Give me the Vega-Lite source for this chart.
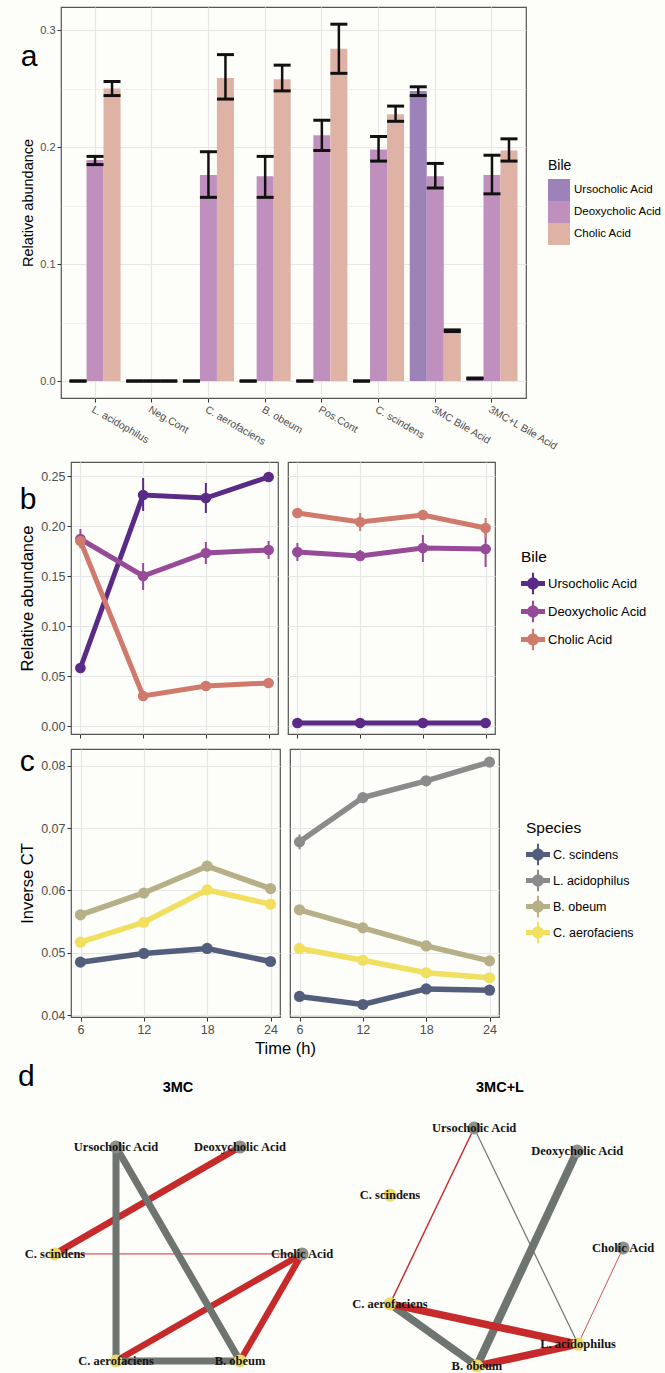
{
  "$schema": "https://vega.github.io/schema/vega-lite/v6.json",
  "background": "#FDFDFA",
  "padding": {"left": 18, "top": 6, "right": 2, "bottom": 2},
  "datasets": {
    "bars": [
      {"group": "L. acidophilus", "bile": "Ursocholic Acid", "mean": 0, "lo": 0, "hi": 0},
      {"group": "L. acidophilus", "bile": "Deoxycholic Acid", "mean": 0.189, "lo": 0.185, "hi": 0.192},
      {"group": "L. acidophilus", "bile": "Cholic Acid", "mean": 0.25, "lo": 0.244, "hi": 0.256},
      {"group": "Neg.Cont", "bile": "Ursocholic Acid", "mean": 0, "lo": 0, "hi": 0},
      {"group": "Neg.Cont", "bile": "Deoxycholic Acid", "mean": 0, "lo": 0, "hi": 0},
      {"group": "Neg.Cont", "bile": "Cholic Acid", "mean": 0, "lo": 0, "hi": 0},
      {"group": "C. aerofaciens", "bile": "Ursocholic Acid", "mean": 0, "lo": 0, "hi": 0},
      {"group": "C. aerofaciens", "bile": "Deoxycholic Acid", "mean": 0.176, "lo": 0.157, "hi": 0.196},
      {"group": "C. aerofaciens", "bile": "Cholic Acid", "mean": 0.259, "lo": 0.241, "hi": 0.279},
      {"group": "B. obeum", "bile": "Ursocholic Acid", "mean": 0, "lo": 0, "hi": 0},
      {"group": "B. obeum", "bile": "Deoxycholic Acid", "mean": 0.175, "lo": 0.157, "hi": 0.192},
      {"group": "B. obeum", "bile": "Cholic Acid", "mean": 0.258, "lo": 0.248, "hi": 0.27},
      {"group": "Pos.Cont", "bile": "Ursocholic Acid", "mean": 0, "lo": 0, "hi": 0},
      {"group": "Pos.Cont", "bile": "Deoxycholic Acid", "mean": 0.21, "lo": 0.197, "hi": 0.223},
      {"group": "Pos.Cont", "bile": "Cholic Acid", "mean": 0.284, "lo": 0.263, "hi": 0.305},
      {"group": "C. scindens", "bile": "Ursocholic Acid", "mean": 0, "lo": 0, "hi": 0},
      {"group": "C. scindens", "bile": "Deoxycholic Acid", "mean": 0.198, "lo": 0.188, "hi": 0.209},
      {"group": "C. scindens", "bile": "Cholic Acid", "mean": 0.228, "lo": 0.222, "hi": 0.235},
      {"group": "3MC Bile Acid", "bile": "Ursocholic Acid", "mean": 0.248, "lo": 0.244, "hi": 0.2515},
      {"group": "3MC Bile Acid", "bile": "Deoxycholic Acid", "mean": 0.175, "lo": 0.165, "hi": 0.186},
      {"group": "3MC Bile Acid", "bile": "Cholic Acid", "mean": 0.043, "lo": 0.0423, "hi": 0.0437},
      {"group": "3MC+L Bile Acid", "bile": "Ursocholic Acid", "mean": 0.0023, "lo": 0.002, "hi": 0.0026},
      {"group": "3MC+L Bile Acid", "bile": "Deoxycholic Acid", "mean": 0.176, "lo": 0.16, "hi": 0.193},
      {"group": "3MC+L Bile Acid", "bile": "Cholic Acid", "mean": 0.197, "lo": 0.188, "hi": 0.207}
    ],
    "bileTime": [
      {"cond": "3MC", "time": 6, "bile": "Ursocholic Acid", "mean": 0.058, "lo": 0.054, "hi": 0.062},
      {"cond": "3MC", "time": 12, "bile": "Ursocholic Acid", "mean": 0.231, "lo": 0.215, "hi": 0.248},
      {"cond": "3MC", "time": 18, "bile": "Ursocholic Acid", "mean": 0.228, "lo": 0.213, "hi": 0.243},
      {"cond": "3MC", "time": 24, "bile": "Ursocholic Acid", "mean": 0.249, "lo": 0.246, "hi": 0.252},
      {"cond": "3MC", "time": 6, "bile": "Deoxycholic Acid", "mean": 0.187, "lo": 0.178, "hi": 0.197},
      {"cond": "3MC", "time": 12, "bile": "Deoxycholic Acid", "mean": 0.15, "lo": 0.136, "hi": 0.163},
      {"cond": "3MC", "time": 18, "bile": "Deoxycholic Acid", "mean": 0.173, "lo": 0.162, "hi": 0.184},
      {"cond": "3MC", "time": 24, "bile": "Deoxycholic Acid", "mean": 0.176, "lo": 0.167, "hi": 0.185},
      {"cond": "3MC", "time": 6, "bile": "Cholic Acid", "mean": 0.185, "lo": 0.18, "hi": 0.19},
      {"cond": "3MC", "time": 12, "bile": "Cholic Acid", "mean": 0.03, "lo": 0.028, "hi": 0.032},
      {"cond": "3MC", "time": 18, "bile": "Cholic Acid", "mean": 0.04, "lo": 0.038, "hi": 0.042},
      {"cond": "3MC", "time": 24, "bile": "Cholic Acid", "mean": 0.043, "lo": 0.041, "hi": 0.045},
      {"cond": "3MC+L", "time": 6, "bile": "Ursocholic Acid", "mean": 0.003, "lo": 0.002, "hi": 0.004},
      {"cond": "3MC+L", "time": 12, "bile": "Ursocholic Acid", "mean": 0.003, "lo": 0.002, "hi": 0.004},
      {"cond": "3MC+L", "time": 18, "bile": "Ursocholic Acid", "mean": 0.003, "lo": 0.002, "hi": 0.004},
      {"cond": "3MC+L", "time": 24, "bile": "Ursocholic Acid", "mean": 0.003, "lo": 0.002, "hi": 0.004},
      {"cond": "3MC+L", "time": 6, "bile": "Deoxycholic Acid", "mean": 0.174, "lo": 0.165, "hi": 0.183},
      {"cond": "3MC+L", "time": 12, "bile": "Deoxycholic Acid", "mean": 0.17, "lo": 0.165, "hi": 0.176},
      {"cond": "3MC+L", "time": 18, "bile": "Deoxycholic Acid", "mean": 0.178, "lo": 0.164, "hi": 0.191},
      {"cond": "3MC+L", "time": 24, "bile": "Deoxycholic Acid", "mean": 0.177, "lo": 0.159, "hi": 0.193},
      {"cond": "3MC+L", "time": 6, "bile": "Cholic Acid", "mean": 0.213, "lo": 0.208, "hi": 0.218},
      {"cond": "3MC+L", "time": 12, "bile": "Cholic Acid", "mean": 0.204, "lo": 0.195, "hi": 0.213},
      {"cond": "3MC+L", "time": 18, "bile": "Cholic Acid", "mean": 0.211, "lo": 0.206, "hi": 0.216},
      {"cond": "3MC+L", "time": 24, "bile": "Cholic Acid", "mean": 0.198, "lo": 0.188, "hi": 0.208}
    ],
    "ct": [
      {"cond": "3MC", "time": 6, "species": "C. scindens", "mean": 0.0485, "lo": 0.0481, "hi": 0.0489},
      {"cond": "3MC", "time": 12, "species": "C. scindens", "mean": 0.0499, "lo": 0.0495, "hi": 0.0503},
      {"cond": "3MC", "time": 18, "species": "C. scindens", "mean": 0.0507, "lo": 0.0503, "hi": 0.0511},
      {"cond": "3MC", "time": 24, "species": "C. scindens", "mean": 0.0486, "lo": 0.0482, "hi": 0.049},
      {"cond": "3MC", "time": 6, "species": "B. obeum", "mean": 0.0561, "lo": 0.0557, "hi": 0.0565},
      {"cond": "3MC", "time": 12, "species": "B. obeum", "mean": 0.0596, "lo": 0.0592, "hi": 0.06},
      {"cond": "3MC", "time": 18, "species": "B. obeum", "mean": 0.0639, "lo": 0.0635, "hi": 0.0643},
      {"cond": "3MC", "time": 24, "species": "B. obeum", "mean": 0.0603, "lo": 0.0599, "hi": 0.0607},
      {"cond": "3MC", "time": 6, "species": "C. aerofaciens", "mean": 0.0517, "lo": 0.0513, "hi": 0.0521},
      {"cond": "3MC", "time": 12, "species": "C. aerofaciens", "mean": 0.0549, "lo": 0.0545, "hi": 0.0553},
      {"cond": "3MC", "time": 18, "species": "C. aerofaciens", "mean": 0.0601, "lo": 0.0596, "hi": 0.0606},
      {"cond": "3MC", "time": 24, "species": "C. aerofaciens", "mean": 0.0578, "lo": 0.0574, "hi": 0.0582},
      {"cond": "3MC+L", "time": 6, "species": "C. scindens", "mean": 0.043, "lo": 0.0426, "hi": 0.0434},
      {"cond": "3MC+L", "time": 12, "species": "C. scindens", "mean": 0.0417, "lo": 0.0413, "hi": 0.0421},
      {"cond": "3MC+L", "time": 18, "species": "C. scindens", "mean": 0.0442, "lo": 0.0438, "hi": 0.0446},
      {"cond": "3MC+L", "time": 24, "species": "C. scindens", "mean": 0.044, "lo": 0.0436, "hi": 0.0444},
      {"cond": "3MC+L", "time": 6, "species": "L. acidophilus", "mean": 0.0678, "lo": 0.0666, "hi": 0.069},
      {"cond": "3MC+L", "time": 12, "species": "L. acidophilus", "mean": 0.0749, "lo": 0.0744, "hi": 0.0754},
      {"cond": "3MC+L", "time": 18, "species": "L. acidophilus", "mean": 0.0776, "lo": 0.0772, "hi": 0.078},
      {"cond": "3MC+L", "time": 24, "species": "L. acidophilus", "mean": 0.0806, "lo": 0.0802, "hi": 0.081},
      {"cond": "3MC+L", "time": 6, "species": "B. obeum", "mean": 0.0569, "lo": 0.0565, "hi": 0.0573},
      {"cond": "3MC+L", "time": 12, "species": "B. obeum", "mean": 0.054, "lo": 0.0536, "hi": 0.0544},
      {"cond": "3MC+L", "time": 18, "species": "B. obeum", "mean": 0.0511, "lo": 0.0507, "hi": 0.0515},
      {"cond": "3MC+L", "time": 24, "species": "B. obeum", "mean": 0.0487, "lo": 0.0483, "hi": 0.0491},
      {"cond": "3MC+L", "time": 6, "species": "C. aerofaciens", "mean": 0.0507, "lo": 0.0503, "hi": 0.0511},
      {"cond": "3MC+L", "time": 12, "species": "C. aerofaciens", "mean": 0.0488, "lo": 0.0484, "hi": 0.0492},
      {"cond": "3MC+L", "time": 18, "species": "C. aerofaciens", "mean": 0.0468, "lo": 0.0464, "hi": 0.0472},
      {"cond": "3MC+L", "time": 24, "species": "C. aerofaciens", "mean": 0.046, "lo": 0.0456, "hi": 0.0464}
    ],
    "nodes3MC": [
      {"name": "Ursocholic Acid", "type": "bile", "x": 0.247, "y": 0},
      {"name": "Deoxycholic Acid", "type": "bile", "x": 0.749, "y": 0},
      {"name": "C. scindens", "type": "species", "x": 0, "y": 0.5},
      {"name": "Cholic Acid", "type": "bile", "x": 1, "y": 0.5},
      {"name": "C. aerofaciens", "type": "species", "x": 0.247, "y": 1},
      {"name": "B. obeum", "type": "species", "x": 0.749, "y": 1}
    ],
    "edges3MC": [
      {"source": "C. scindens", "target": "Deoxycholic Acid", "sign": "negative", "weight": 0.82},
      {"source": "C. scindens", "target": "Cholic Acid", "sign": "negative", "weight": 0.12},
      {"source": "Cholic Acid", "target": "C. aerofaciens", "sign": "negative", "weight": 0.8},
      {"source": "Cholic Acid", "target": "B. obeum", "sign": "negative", "weight": 0.8},
      {"source": "Ursocholic Acid", "target": "C. aerofaciens", "sign": "positive", "weight": 0.88},
      {"source": "Ursocholic Acid", "target": "B. obeum", "sign": "positive", "weight": 0.88},
      {"source": "C. aerofaciens", "target": "B. obeum", "sign": "positive", "weight": 0.88}
    ],
    "nodes3MCL": [
      {"name": "Ursocholic Acid", "type": "bile", "x": 0.361, "y": 0},
      {"name": "Deoxycholic Acid", "type": "bile", "x": 0.803, "y": 0.097},
      {"name": "C. scindens", "type": "species", "x": 0, "y": 0.282},
      {"name": "Cholic Acid", "type": "bile", "x": 1, "y": 0.504},
      {"name": "C. aerofaciens", "type": "species", "x": 0, "y": 0.739},
      {"name": "L. acidophilus", "type": "species", "x": 0.807, "y": 0.908},
      {"name": "B. obeum", "type": "species", "x": 0.373, "y": 1}
    ],
    "edges3MCL": [
      {"source": "Ursocholic Acid", "target": "C. aerofaciens", "sign": "negative", "weight": 0.18},
      {"source": "Ursocholic Acid", "target": "L. acidophilus", "sign": "positive", "weight": 0.15},
      {"source": "Cholic Acid", "target": "L. acidophilus", "sign": "negative", "weight": 0.1},
      {"source": "Deoxycholic Acid", "target": "B. obeum", "sign": "positive", "weight": 1},
      {"source": "C. aerofaciens", "target": "B. obeum", "sign": "positive", "weight": 0.95},
      {"source": "C. aerofaciens", "target": "L. acidophilus", "sign": "negative", "weight": 0.95},
      {"source": "B. obeum", "target": "L. acidophilus", "sign": "negative", "weight": 0.95}
    ]
  },
  "concat": [
    {
      "concat": [
        {
          "hconcat": [
            {"width": 2, "height": 1, "data": {"values": []}, "mark": {"type": "point"}, "encoding": {}, "view": {"stroke": null}},
            {
              "width": 465,
              "height": 391,
              "title": {"text": "a", "anchor": "start", "frame": "bounds", "fontSize": 30, "fontWeight": "normal", "offset": 0, "dy": 89, "baseline": "alphabetic"},
              "data": {"name": "bars"},
              "encoding": {
                "x": {"field": "group", "type": "nominal",
                  "sort": ["L. acidophilus", "Neg.Cont", "C. aerofaciens", "B. obeum", "Pos.Cont", "C. scindens", "3MC Bile Acid", "3MC+L Bile Acid"],
                  "scale": {"paddingInner": 0.1, "paddingOuter": 0.15},
                  "axis": {"title": null, "labelAngle": 30, "labelAlign": "left", "labelBaseline": "top", "labelFontSize": 10.5, "labelOverlap": false, "bandPosition": 0.5, "grid": true, "gridWidth": 1.2}},
                "xOffset": {"field": "bile", "type": "nominal", "sort": ["Ursocholic Acid", "Deoxycholic Acid", "Cholic Acid"], "scale": {"paddingInner": 0, "paddingOuter": 0}}
              },
              "layer": [
                {
                  "mark": {"type": "bar"},
                  "encoding": {
                    "y": {"field": "mean", "type": "quantitative", "title": "Relative abundance",
                      "scale": {"domain": [-0.0145, 0.3197], "nice": false},
                      "axis": {"values": [0, 0.05, 0.1, 0.15, 0.2, 0.25, 0.3], "titleFontSize": 14.5, "titlePadding": 4, "labelFontSize": 11,
                        "labelExpr": "abs(datum.value*10-round(datum.value*10))>0.01 ? '' : format(datum.value,'.1f')",
                        "tickOpacity": {"condition": {"test": "abs(datum.value*10-round(datum.value*10))>0.01", "value": 0}, "value": 1},
                        "gridWidth": {"condition": {"test": "abs(datum.value*10-round(datum.value*10))>0.01", "value": 0.6}, "value": 1.2}}},
                    "fill": {"field": "bile", "type": "nominal",
                      "scale": {"domain": ["Ursocholic Acid", "Deoxycholic Acid", "Cholic Acid"], "range": ["#9C82B8", "#BF90BE", "#DEB2A4"]},
                      "legend": {"orient": "none", "legendX": 487, "legendY": 152, "title": "Bile", "titleFontSize": 14, "titleFontWeight": "normal", "titleColor": "#000", "labelFontSize": 11.5, "labelColor": "#000", "symbolType": "square", "symbolSize": 484, "symbolStrokeWidth": 0, "rowPadding": 0, "titlePadding": 6, "labelOffset": 4}}
                  }
                },
                {
                  "mark": {"type": "rule", "color": "#111111", "strokeWidth": 2.5},
                  "encoding": {"y": {"field": "lo", "type": "quantitative", "title": "Relative abundance"}, "y2": {"field": "hi"}}
                },
                {
                  "transform": [{"fold": ["lo", "hi"], "as": ["which", "cap"]}],
                  "mark": {"type": "tick", "color": "#111111", "thickness": 3, "size": 17, "opacity": 1},
                  "encoding": {"y": {"field": "cap", "type": "quantitative", "title": "Relative abundance"}}
                }
              ]
            }
          ],
          "spacing": 0,
          "resolve": {"scale": {"fill": "independent", "stroke": "independent", "x": "independent", "y": "independent"}, "legend": {"fill": "independent", "stroke": "independent"}}
        },
        {
          "concat": [
            {
              "hconcat": [
                {"width": 1, "height": 1, "data": {"values": []}, "mark": {"type": "point"}, "encoding": {}, "view": {"stroke": null}},
                {
                  "hconcat": [
                    {
                      "width": 207, "height": 272,
                      "title": {"text": "b", "anchor": "start", "frame": "bounds", "fontSize": 30, "fontWeight": "normal", "offset": 0, "dy": 77, "baseline": "alphabetic"},
                      "data": {"name": "bileTime"},
                      "transform": [{"filter": "datum.cond === '3MC'"}],
                      "encoding": {"x": {"field": "time", "type": "quantitative", "scale": {"domain": [5.1, 24.9], "nice": false, "zero": false}, "axis": {"values": [6, 12, 18, 24], "labels": false, "title": null, "gridWidth": 1.2}}},
                      "layer": [
                        {"mark": {"type": "rule", "strokeWidth": 2},
                          "encoding": {
                            "y": {"field": "lo", "type": "quantitative", "title": "Relative abundance", "scale": {"domain": [-0.008, 0.264], "nice": false, "zero": false},
                              "axis": {"values": [0, 0.025, 0.05, 0.075, 0.1, 0.125, 0.15, 0.175, 0.2, 0.225, 0.25], "titleFontSize": 16.5, "titlePadding": 5, "labelFontSize": 12.5,
                                "labelExpr": "abs(datum.value*20-round(datum.value*20))>0.01 ? '' : format(datum.value,'.2f')",
                                "tickOpacity": {"condition": {"test": "abs(datum.value*20-round(datum.value*20))>0.01", "value": 0}, "value": 1},
                                "gridWidth": {"condition": {"test": "abs(datum.value*20-round(datum.value*20))>0.01", "value": 0.6}, "value": 1.2}}},
                            "y2": {"field": "hi"},
                            "stroke": {"field": "bile", "type": "nominal", "scale": {"domain": ["Ursocholic Acid", "Deoxycholic Acid", "Cholic Acid"], "range": ["#5A2A87", "#964A97", "#CF7A6C"]}, "legend": null}}},
                        {"mark": {"type": "line", "strokeWidth": 5},
                          "encoding": {"y": {"field": "mean", "type": "quantitative", "title": "Relative abundance"}, "stroke": {"field": "bile", "type": "nominal", "legend": null}}},
                        {"mark": {"type": "point", "filled": true, "size": 115, "opacity": 1, "strokeWidth": 0},
                          "encoding": {"y": {"field": "mean", "type": "quantitative", "title": "Relative abundance"},
                            "fill": {"field": "bile", "type": "nominal", "scale": {"domain": ["Ursocholic Acid", "Deoxycholic Acid", "Cholic Acid"], "range": ["#5A2A87", "#964A97", "#CF7A6C"]}, "legend": null}}}
                      ]
                    },
                    {
                      "width": 207, "height": 272,
                      "data": {"name": "bileTime"},
                      "transform": [{"filter": "datum.cond === '3MC+L'"}],
                      "encoding": {"x": {"field": "time", "type": "quantitative", "scale": {"domain": [5.1, 24.9], "nice": false, "zero": false}, "axis": {"values": [6, 12, 18, 24], "labels": false, "title": null, "gridWidth": 1.2}}},
                      "layer": [
                        {"mark": {"type": "rule", "strokeWidth": 2},
                          "encoding": {
                            "y": {"field": "lo", "type": "quantitative", "scale": {"domain": [-0.008, 0.264], "nice": false, "zero": false},
                              "axis": {"values": [0, 0.025, 0.05, 0.075, 0.1, 0.125, 0.15, 0.175, 0.2, 0.225, 0.25], "title": null, "labels": false, "ticks": false,
                                "gridWidth": {"condition": {"test": "abs(datum.value*20-round(datum.value*20))>0.01", "value": 0.6}, "value": 1.2}}},
                            "y2": {"field": "hi"},
                            "stroke": {"field": "bile", "type": "nominal", "scale": {"domain": ["Ursocholic Acid", "Deoxycholic Acid", "Cholic Acid"], "range": ["#5A2A87", "#964A97", "#CF7A6C"]},
                              "legend": {"orient": "none", "legendX": 233, "legendY": 88, "title": "Bile", "titleFontSize": 15.5, "titleFontWeight": "normal", "titleColor": "#000", "labelFontSize": 13, "labelColor": "#000",
                                "symbolType": "M-1,-0.21L1,-0.21L1,0.21L-1,0.21ZM-0.085,-0.9L0.085,-0.9L0.085,0.9L-0.085,0.9ZM-0.5,0A0.5,0.5 0 1,1 0.5,0A0.5,0.5 0 1,1 -0.5,0Z",
                                "symbolSize": 576, "symbolStrokeWidth": 0, "symbolOpacity": 1, "rowPadding": 5, "titlePadding": 6, "labelOffset": 3}}}},
                        {"mark": {"type": "line", "strokeWidth": 5},
                          "encoding": {"y": {"field": "mean", "type": "quantitative"}, "stroke": {"field": "bile", "type": "nominal",
                              "legend": {"orient": "none", "legendX": 233, "legendY": 88, "title": "Bile", "titleFontSize": 15.5, "titleFontWeight": "normal", "titleColor": "#000", "labelFontSize": 13, "labelColor": "#000",
                                "symbolType": "M-1,-0.21L1,-0.21L1,0.21L-1,0.21ZM-0.085,-0.9L0.085,-0.9L0.085,0.9L-0.085,0.9ZM-0.5,0A0.5,0.5 0 1,1 0.5,0A0.5,0.5 0 1,1 -0.5,0Z",
                                "symbolSize": 576, "symbolStrokeWidth": 0, "symbolOpacity": 1, "rowPadding": 5, "titlePadding": 6, "labelOffset": 3}}}},
                        {"mark": {"type": "point", "filled": true, "size": 115, "opacity": 1, "strokeWidth": 0},
                          "encoding": {"y": {"field": "mean", "type": "quantitative"},
                            "fill": {"field": "bile", "type": "nominal", "scale": {"domain": ["Ursocholic Acid", "Deoxycholic Acid", "Cholic Acid"], "range": ["#5A2A87", "#964A97", "#CF7A6C"]},
                              "legend": {"orient": "none", "legendX": 233, "legendY": 88, "title": "Bile", "titleFontSize": 15.5, "titleFontWeight": "normal", "titleColor": "#000", "labelFontSize": 13, "labelColor": "#000",
                                "symbolType": "M-1,-0.21L1,-0.21L1,0.21L-1,0.21ZM-0.085,-0.9L0.085,-0.9L0.085,0.9L-0.085,0.9ZM-0.5,0A0.5,0.5 0 1,1 0.5,0A0.5,0.5 0 1,1 -0.5,0Z",
                                "symbolSize": 576, "symbolStrokeWidth": 0, "symbolOpacity": 1, "rowPadding": 5, "titlePadding": 6, "labelOffset": 3}}}}
                      ]
                    }
                  ],
                  "spacing": 10,
                  "bounds": "flush",
                  "resolve": {"scale": {"fill": "independent", "stroke": "independent", "x": "independent", "y": "independent"}, "legend": {"fill": "independent", "stroke": "independent"}}
                }
              ],
              "spacing": 0,
              "resolve": {"scale": {"fill": "independent", "stroke": "independent", "x": "independent", "y": "independent"}, "legend": {"fill": "independent", "stroke": "independent"}}
            },
            {
              "hconcat": [
                {"width": 1, "height": 1, "data": {"values": []}, "mark": {"type": "point"}, "encoding": {}, "view": {"stroke": null}},
                {
                  "hconcat": [
                    {
                      "width": 209, "height": 268,
                      "title": {"text": "c", "anchor": "start", "frame": "bounds", "fontSize": 30, "fontWeight": "normal", "offset": 0, "dy": 52, "baseline": "alphabetic"},
                      "data": {"name": "ct"},
                      "transform": [{"filter": "datum.cond === '3MC'"}],
                      "encoding": {"x": {"field": "time", "type": "quantitative", "scale": {"domain": [5.1, 24.9], "nice": false, "zero": false},
                        "axis": {"values": [6, 12, 18, 24], "title": "Time (h)", "titleX": 214, "titleAlign": "center", "titleFontSize": 16.5, "titlePadding": 5, "labelFontSize": 12.5, "gridWidth": 1.2}}},
                      "layer": [
                        {"mark": {"type": "rule", "strokeWidth": 2},
                          "encoding": {
                            "y": {"field": "lo", "type": "quantitative", "title": "Inverse CT", "scale": {"domain": [0.0397, 0.0827], "nice": false, "zero": false},
                              "axis": {"values": [0.04, 0.045, 0.05, 0.055, 0.06, 0.065, 0.07, 0.075, 0.08], "titleFontSize": 16.5, "titlePadding": 5, "labelFontSize": 12.5,
                                "labelExpr": "abs(datum.value*100-round(datum.value*100))>0.01 ? '' : format(datum.value,'.2f')",
                                "tickOpacity": {"condition": {"test": "abs(datum.value*100-round(datum.value*100))>0.01", "value": 0}, "value": 1},
                                "gridWidth": {"condition": {"test": "abs(datum.value*100-round(datum.value*100))>0.01", "value": 0.6}, "value": 1.2}}},
                            "y2": {"field": "hi"},
                            "stroke": {"field": "species", "type": "nominal", "scale": {"domain": ["C. scindens", "L. acidophilus", "B. obeum", "C. aerofaciens"], "range": ["#535E7C", "#8B8B8B", "#B7AF87", "#F1DF5F"]}, "legend": null}}},
                        {"mark": {"type": "line", "strokeWidth": 5.5},
                          "encoding": {"y": {"field": "mean", "type": "quantitative", "title": "Inverse CT"}, "stroke": {"field": "species", "type": "nominal", "legend": null}}},
                        {"mark": {"type": "point", "filled": true, "size": 125, "opacity": 1, "strokeWidth": 0},
                          "encoding": {"y": {"field": "mean", "type": "quantitative", "title": "Inverse CT"},
                            "fill": {"field": "species", "type": "nominal", "scale": {"domain": ["C. scindens", "L. acidophilus", "B. obeum", "C. aerofaciens"], "range": ["#535E7C", "#8B8B8B", "#B7AF87", "#F1DF5F"]}, "legend": null}}}
                      ]
                    },
                    {
                      "width": 209, "height": 268,
                      "data": {"name": "ct"},
                      "transform": [{"filter": "datum.cond === '3MC+L'"}],
                      "encoding": {"x": {"field": "time", "type": "quantitative", "scale": {"domain": [5.1, 24.9], "nice": false, "zero": false},
                        "axis": {"values": [6, 12, 18, 24], "title": null, "labelFontSize": 12.5, "gridWidth": 1.2}}},
                      "layer": [
                        {"mark": {"type": "rule", "strokeWidth": 2},
                          "encoding": {
                            "y": {"field": "lo", "type": "quantitative", "scale": {"domain": [0.0397, 0.0827], "nice": false, "zero": false},
                              "axis": {"values": [0.04, 0.045, 0.05, 0.055, 0.06, 0.065, 0.07, 0.075, 0.08], "title": null, "labels": false, "ticks": false,
                                "gridWidth": {"condition": {"test": "abs(datum.value*100-round(datum.value*100))>0.01", "value": 0.6}, "value": 1.2}}},
                            "y2": {"field": "hi"},
                            "stroke": {"field": "species", "type": "nominal", "scale": {"domain": ["C. scindens", "L. acidophilus", "B. obeum", "C. aerofaciens"], "range": ["#535E7C", "#8B8B8B", "#B7AF87", "#F1DF5F"]},
                              "legend": {"orient": "none", "legendX": 236, "legendY": 72, "title": "Species", "titleFontSize": 15.5, "titleFontWeight": "normal", "titleColor": "#000", "labelFontSize": 12.5, "labelColor": "#000",
                                "symbolType": "M-1,-0.21L1,-0.21L1,0.21L-1,0.21ZM-0.085,-0.9L0.085,-0.9L0.085,0.9L-0.085,0.9ZM-0.5,0A0.5,0.5 0 1,1 0.5,0A0.5,0.5 0 1,1 -0.5,0Z",
                                "symbolSize": 576, "symbolStrokeWidth": 0, "symbolOpacity": 1, "rowPadding": 3, "titlePadding": 6, "labelOffset": 3}}}},
                        {"mark": {"type": "line", "strokeWidth": 5.5},
                          "encoding": {"y": {"field": "mean", "type": "quantitative"}, "stroke": {"field": "species", "type": "nominal",
                              "legend": {"orient": "none", "legendX": 236, "legendY": 72, "title": "Species", "titleFontSize": 15.5, "titleFontWeight": "normal", "titleColor": "#000", "labelFontSize": 12.5, "labelColor": "#000",
                                "symbolType": "M-1,-0.21L1,-0.21L1,0.21L-1,0.21ZM-0.085,-0.9L0.085,-0.9L0.085,0.9L-0.085,0.9ZM-0.5,0A0.5,0.5 0 1,1 0.5,0A0.5,0.5 0 1,1 -0.5,0Z",
                                "symbolSize": 576, "symbolStrokeWidth": 0, "symbolOpacity": 1, "rowPadding": 3, "titlePadding": 6, "labelOffset": 3}}}},
                        {"mark": {"type": "point", "filled": true, "size": 125, "opacity": 1, "strokeWidth": 0},
                          "encoding": {"y": {"field": "mean", "type": "quantitative"},
                            "fill": {"field": "species", "type": "nominal", "scale": {"domain": ["C. scindens", "L. acidophilus", "B. obeum", "C. aerofaciens"], "range": ["#535E7C", "#8B8B8B", "#B7AF87", "#F1DF5F"]},
                              "legend": {"orient": "none", "legendX": 236, "legendY": 72, "title": "Species", "titleFontSize": 15.5, "titleFontWeight": "normal", "titleColor": "#000", "labelFontSize": 12.5, "labelColor": "#000",
                                "symbolType": "M-1,-0.21L1,-0.21L1,0.21L-1,0.21ZM-0.085,-0.9L0.085,-0.9L0.085,0.9L-0.085,0.9ZM-0.5,0A0.5,0.5 0 1,1 0.5,0A0.5,0.5 0 1,1 -0.5,0Z",
                                "symbolSize": 576, "symbolStrokeWidth": 0, "symbolOpacity": 1, "rowPadding": 3, "titlePadding": 6, "labelOffset": 3}}}}
                      ]
                    }
                  ],
                  "spacing": 10,
                  "bounds": "flush",
                  "resolve": {"scale": {"fill": "independent", "stroke": "independent", "x": "independent", "y": "independent"}, "legend": {"fill": "independent", "stroke": "independent"}}
                }
              ],
              "spacing": 0,
              "resolve": {"scale": {"fill": "independent", "stroke": "independent", "x": "independent", "y": "independent"}, "legend": {"fill": "independent", "stroke": "independent"}}
            }
          ],
          "columns": 1,
          "spacing": 6,
          "resolve": {"scale": {"fill": "independent", "stroke": "independent", "x": "independent", "y": "independent"}, "legend": {"fill": "independent", "stroke": "independent"}}
        }
      ],
      "columns": 1,
      "spacing": 8,
      "resolve": {"scale": {"fill": "independent", "stroke": "independent", "x": "independent", "y": "independent"}, "legend": {"fill": "independent", "stroke": "independent"}}
    },
    {
      "hconcat": [
        {
          "width": 320, "height": 260,
          "title": {"text": "3MC", "anchor": "middle", "frame": "group", "fontSize": 14.5, "fontWeight": "bold", "offset": 5, "baseline": "alphabetic"},
          "view": {"stroke": null},
          "layer": [
            {
              "data": {"name": "edges3MC"},
              "transform": [
                {"lookup": "source", "from": {"data": {"name": "nodes3MC"}, "key": "name", "fields": ["x", "y"]}, "as": ["sx", "sy"]},
                {"lookup": "target", "from": {"data": {"name": "nodes3MC"}, "key": "name", "fields": ["x", "y"]}, "as": ["tx", "ty"]}
              ],
              "mark": {"type": "rule"},
              "encoding": {
                "x": {"field": "sx", "type": "quantitative", "scale": {"domain": [-0.1498, 1.1457], "nice": false, "zero": false}, "axis": null},
                "y": {"field": "sy", "type": "quantitative", "scale": {"domain": [-0.168, 1.047], "nice": false, "zero": false, "reverse": true}, "axis": null},
                "x2": {"field": "tx"},
                "y2": {"field": "ty"},
                "stroke": {"field": "sign", "type": "nominal", "scale": {"domain": ["positive", "negative"], "range": ["#6E7470", "#C62A2A"]}, "legend": null},
                "strokeWidth": {"field": "weight", "type": "quantitative", "scale": {"domain": [0, 1], "range": [0, 8]}, "legend": null}
              }
            },
            {
              "data": {"name": "nodes3MC"},
              "mark": {"type": "point", "filled": true, "size": 170, "opacity": 1, "strokeWidth": 0},
              "encoding": {
                "x": {"field": "x", "type": "quantitative"},
                "y": {"field": "y", "type": "quantitative"},
                "fill": {"field": "type", "type": "nominal", "scale": {"domain": ["bile", "species"], "range": ["#8C9088", "#EBD96A"]}, "legend": null}
              }
            },
            {
              "data": {"name": "nodes3MC"},
              "mark": {"type": "text", "font": "Liberation Serif", "fontWeight": "bold", "fontSize": 12.5, "color": "#141414"},
              "encoding": {
                "x": {"field": "x", "type": "quantitative"},
                "y": {"field": "y", "type": "quantitative"},
                "text": {"field": "name", "type": "nominal"}
              }
            }
          ]
        },
        {
          "width": 310, "height": 260,
          "title": {"text": "3MC+L", "anchor": "middle", "frame": "group", "fontSize": 14.5, "fontWeight": "bold", "offset": 5, "baseline": "alphabetic"},
          "view": {"stroke": null},
          "layer": [
            {
              "data": {"name": "edges3MCL"},
              "transform": [
                {"lookup": "source", "from": {"data": {"name": "nodes3MCL"}, "key": "name", "fields": ["x", "y"]}, "as": ["sx", "sy"]},
                {"lookup": "target", "from": {"data": {"name": "nodes3MCL"}, "key": "name", "fields": ["x", "y"]}, "as": ["tx", "ty"]}
              ],
              "mark": {"type": "rule"},
              "encoding": {
                "x": {"field": "sx", "type": "quantitative", "scale": {"domain": [-0.193, 1.137], "nice": false, "zero": false}, "axis": null},
                "y": {"field": "sy", "type": "quantitative", "scale": {"domain": [-0.0714, 1.021], "nice": false, "zero": false, "reverse": true}, "axis": null},
                "x2": {"field": "tx"},
                "y2": {"field": "ty"},
                "stroke": {"field": "sign", "type": "nominal", "scale": {"domain": ["positive", "negative"], "range": ["#6E7470", "#C62A2A"]}, "legend": null},
                "strokeWidth": {"field": "weight", "type": "quantitative", "scale": {"domain": [0, 1], "range": [0, 8]}, "legend": null}
              }
            },
            {
              "data": {"name": "nodes3MCL"},
              "mark": {"type": "point", "filled": true, "size": 170, "opacity": 1, "strokeWidth": 0},
              "encoding": {
                "x": {"field": "x", "type": "quantitative"},
                "y": {"field": "y", "type": "quantitative"},
                "fill": {"field": "type", "type": "nominal", "scale": {"domain": ["bile", "species"], "range": ["#8C9088", "#EBD96A"]}, "legend": null}
              }
            },
            {
              "data": {"name": "nodes3MCL"},
              "mark": {"type": "text", "font": "Liberation Serif", "fontWeight": "bold", "fontSize": 12.5, "color": "#141414"},
              "encoding": {
                "x": {"field": "x", "type": "quantitative"},
                "y": {"field": "y", "type": "quantitative"},
                "text": {"field": "name", "type": "nominal"}
              }
            }
          ]
        }
      ],
      "spacing": 7,
      "bounds": "flush",
      "title": {"text": "d", "anchor": "start", "frame": "bounds", "fontSize": 30, "fontWeight": "normal", "offset": 0, "dy": 36, "baseline": "alphabetic"},
      "resolve": {"scale": {"fill": "independent", "stroke": "independent", "strokeWidth": "independent", "x": "independent", "y": "independent"}, "legend": {"fill": "independent", "stroke": "independent"}}
    }
  ],
  "columns": 1,
  "spacing": 3,
  "resolve": {"scale": {"fill": "independent", "stroke": "independent", "strokeWidth": "independent", "x": "independent", "y": "independent"}, "legend": {"fill": "independent", "stroke": "independent"}},
  "config": {
    "font": "Liberation Sans",
    "view": {"stroke": "#555555", "strokeWidth": 1.2},
    "axis": {"domain": false, "tickColor": "#333333", "tickSize": 4, "labelColor": "#4D4D4D", "titleColor": "#000000", "titleFontWeight": "normal", "gridColor": "#E6E6E6", "labelPadding": 2},
    "title": {"color": "#000000"}
  }
}
